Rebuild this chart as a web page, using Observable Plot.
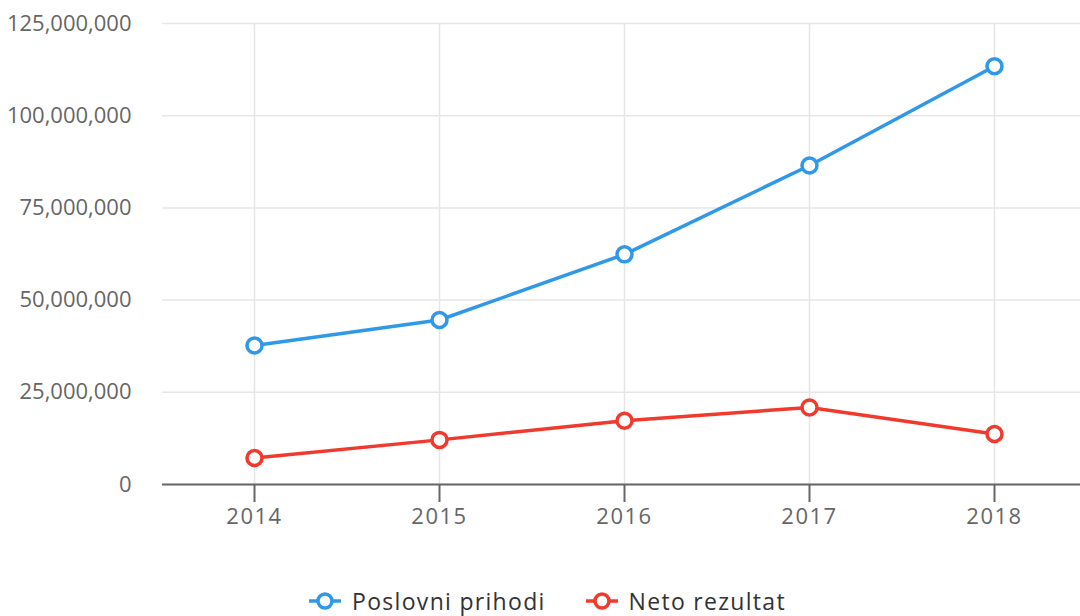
<!DOCTYPE html>
<html>
<head>
<meta charset="utf-8">
<script src="https://cdn.jsdelivr.net/npm/d3@7"></script>
<script src="https://cdn.jsdelivr.net/npm/@observablehq/plot@0.6"></script>
<style>
  html, body { margin: 0; padding: 0; background: #fff; }
  body { width: 1080px; height: 616px; overflow: hidden; font-family: "Open Sans", sans-serif; }
  #legend { display: flex; justify-content: center; align-items: center; gap: 40px; height: 40px; margin-top: 36px; padding-left: 15px; font-size: 23px; letter-spacing: 1.3px; color: #333; }
  .item { display: flex; align-items: center; gap: 11px; }
  .item svg { flex: none; }
  g[aria-label="x-axis tick label"] text { letter-spacing: 1.5px; }
</style>
</head>
<body>
<div id="chart"></div>
<div id="legend"></div>
<script>
const years = ["2014", "2015", "2016", "2017", "2018"];
const seriesNames = ["Poslovni prihodi", "Neto rezultat"];
const poslovniPrihodi = [37.7e6, 44.6e6, 62.4e6, 86.5e6, 113.4e6];
const netoRezultat = [7.2e6, 12.1e6, 17.3e6, 20.9e6, 13.7e6];
const seriesColors = ["#3098e8", "#f2392d"];
const yTicks = [0, 25e6, 50e6, 75e6, 100e6, 125e6];

const data = [];
years.forEach((yr, i) => {
  data.push({year: yr, value: poslovniPrihodi[i], series: seriesNames[0]});
  data.push({year: yr, value: netoRezultat[i], series: seriesNames[1]});
});

const chart = Plot.plot({
  width: 1080,
  height: 545,
  marginLeft: 162,
  marginRight: 0,
  marginTop: 23,
  marginBottom: 61,
  style: {fontFamily: "Open Sans", fontSize: "22px", background: "#fff"},
  x: {type: "point", domain: years, range: [254, 994], padding: 0},
  y: {domain: [0, 125e6]},
  color: {domain: seriesNames, range: seriesColors},
  marks: [
    Plot.gridY(yTicks, {stroke: "#e6e6e6", strokeOpacity: 1, strokeWidth: 1.5}),
    Plot.gridX(years, {stroke: "#e6e6e6", strokeOpacity: 1, strokeWidth: 1.5}),
    Plot.axisY(yTicks, {tickSize: 0, tickPadding: 31, tickFormat: d3.format(","), fill: "#666", fontSize: 22, label: null}),
    Plot.axisX(years, {tickSize: 18, tickPadding: 6, stroke: "#666", strokeWidth: 2, fill: "#666", fontSize: 22, label: null}),
    Plot.ruleY([0], {stroke: "#666", strokeWidth: 2}),
    Plot.line(data, {x: "year", y: "value", stroke: "series", strokeWidth: 3.5}),
    Plot.dot(data, {x: "year", y: "value", stroke: "series", fill: "#fff", r: 7.5, strokeWidth: 3.5})
  ]
});
document.getElementById("chart").appendChild(chart);

const legend = document.getElementById("legend");
seriesNames.forEach((name, i) => {
  const item = document.createElement("div");
  item.className = "item";
  const c = seriesColors[i];
  item.innerHTML = `<svg width="32" height="20"><line x1="0" x2="32" y1="10" y2="10" stroke="${c}" stroke-width="3.5"/><circle cx="16" cy="10" r="7" fill="#fff" stroke="${c}" stroke-width="3.5"/></svg><span>${name}</span>`;
  legend.appendChild(item);
});
</script>
</body>
</html>
